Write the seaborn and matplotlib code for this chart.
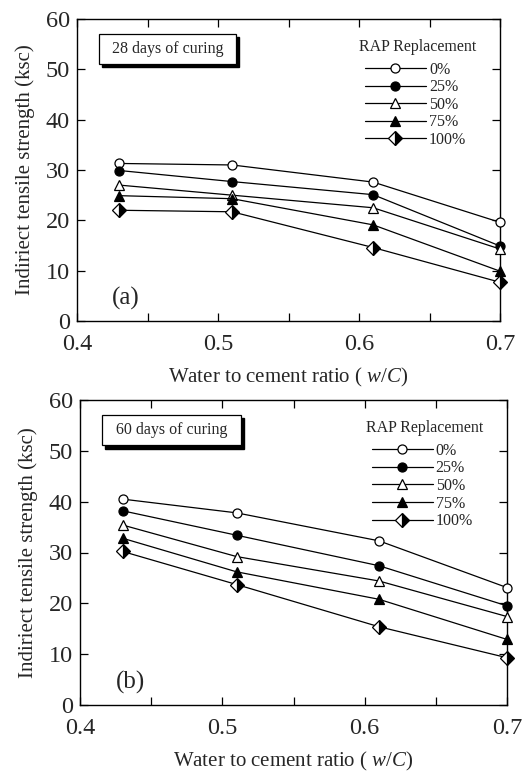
import matplotlib
matplotlib.use("Agg")
import matplotlib.pyplot as plt
import seaborn as sns
import pandas as pd
from matplotlib.patches import Rectangle
from matplotlib.ticker import MultipleLocator

# ---------------- data ----------------
wc_ratio = [0.43, 0.51, 0.61, 0.70]
rap_labels = ["0%", "25%", "50%", "75%", "100%"]

d28_rap0 = [31.3, 31.0, 27.6, 19.6]
d28_rap25 = [29.9, 27.7, 25.1, 14.9]
d28_rap50 = [27.0, 25.0, 22.5, 14.3]
d28_rap75 = [24.9, 24.3, 19.1, 9.9]
d28_rap100 = [22.0, 21.7, 14.6, 7.7]

d60_rap0 = [40.5, 37.8, 32.3, 23.1]
d60_rap25 = [38.2, 33.4, 27.4, 19.5]
d60_rap50 = [35.4, 29.2, 24.4, 17.4]
d60_rap75 = [32.8, 26.2, 20.8, 12.9]
d60_rap100 = [30.2, 23.7, 15.4, 9.3]

panels = [
    ("28 days of curing", "(a)", [d28_rap0, d28_rap25, d28_rap50, d28_rap75, d28_rap100]),
    ("60 days of curing", "(b)", [d60_rap0, d60_rap25, d60_rap50, d60_rap75, d60_rap100]),
]

x_ticks = [0.4, 0.5, 0.6, 0.7]
y_ticks = [0, 10, 20, 30, 40, 50, 60]

# ---------------- style ----------------
sns.set_theme(style="ticks")
plt.rcParams["font.family"] = ["Liberation Serif", "DejaVu Serif"]
plt.rcParams["mathtext.fontset"] = "custom"
plt.rcParams["mathtext.it"] = "Liberation Serif:italic"
plt.rcParams["mathtext.rm"] = "Liberation Serif"

marker_styles = [
    dict(marker="o", markersize=6.5, markerfacecolor="white", fillstyle="full"),
    dict(marker="o", markersize=6.5, markerfacecolor="black", fillstyle="full"),
    dict(marker="^", markersize=7, markerfacecolor="white", fillstyle="full"),
    dict(marker="^", markersize=7, markerfacecolor="black", fillstyle="full"),
    dict(marker="D", markersize=7, markerfacecolor="black", fillstyle="right",
         markerfacecoloralt="white"),
]

fig = plt.figure(figsize=(5.24, 7.72), dpi=100)
axes_pos = [
    [77 / 524, 1 - 321 / 772, (500 - 77) / 524, (321 - 19) / 772],
    [80 / 524, 1 - 705 / 772, (507 - 80) / 524, (705 - 400) / 772],
]
legend_anchor = [(0.945, 0.935), (0.945, 0.935)]

for (box_text, tag, series), pos, anc in zip(panels, axes_pos, legend_anchor):
    ax = fig.add_axes(pos)
    for vals, lab, ms in zip(series, rap_labels, marker_styles):
        df = pd.DataFrame({"wc": wc_ratio, "its": vals})
        sns.lineplot(data=df, x="wc", y="its", ax=ax, color="black", lw=0.9,
                     markeredgecolor="black", markeredgewidth=0.9,
                     label=lab, zorder=3, clip_on=False, **ms)

    ax.set_xlim(0.4, 0.7)
    ax.set_ylim(0, 60)
    ax.set_xticks(x_ticks)
    ax.set_xticklabels([f"{v:.1f}" for v in x_ticks])
    ax.set_yticks(y_ticks)
    ax.xaxis.set_minor_locator(MultipleLocator(0.05))
    ax.tick_params(axis="both", which="both", direction="in", top=True, right=True,
                   labelsize=17.5, color="black", width=0.9)
    ax.tick_params(axis="both", which="major", length=6)
    ax.tick_params(axis="x", which="major", pad=9.5)
    ax.tick_params(axis="y", which="major", pad=5)
    ax.tick_params(axis="x", which="minor", length=6)
    for sp in ax.spines.values():
        sp.set_color("black")
        sp.set_linewidth(1.0)
        sp.set_visible(True)

    ax.set_xlabel("Water to cement ratio ( $\\mathit{w/C}$)", fontsize=15, labelpad=8)
    ax.set_ylabel("Indiriect tensile strength (ksc)", fontsize=15, labelpad=8)

    # curing box with drop shadow
    ax.add_patch(Rectangle((0.058, 0.840), 0.326, 0.10, transform=ax.transAxes,
                           facecolor="black", edgecolor="black", zorder=4))
    ax.add_patch(Rectangle((0.051, 0.851), 0.326, 0.10, transform=ax.transAxes,
                           facecolor="white", edgecolor="black", lw=0.9, zorder=5))
    ax.text(0.214, 0.901, box_text, transform=ax.transAxes, ha="center", va="center",
            fontsize=11.5, zorder=6)

    ax.text(0.083, 0.035, tag, transform=ax.transAxes, fontsize=18, ha="left", va="bottom")

    handles, labels = ax.get_legend_handles_labels()
    leg = ax.legend(handles, labels, title="RAP Replacement", loc="upper right",
                    bbox_to_anchor=anc, frameon=False, fontsize=11.5,
                    title_fontsize=11.5, handlelength=3.8, handletextpad=0.2,
                    labelspacing=0.1, borderaxespad=0.0, borderpad=0.0)
    leg._legend_box.align = "left"
    leg._legend_box.sep = 1
    leg._legend_handle_box.align = "left"
    leg._legend_handle_box.pad = 4
    for hp in leg._legend_handle_box.get_children():
        hp.pad = 0

fig.savefig("out.png", dpi=100)
